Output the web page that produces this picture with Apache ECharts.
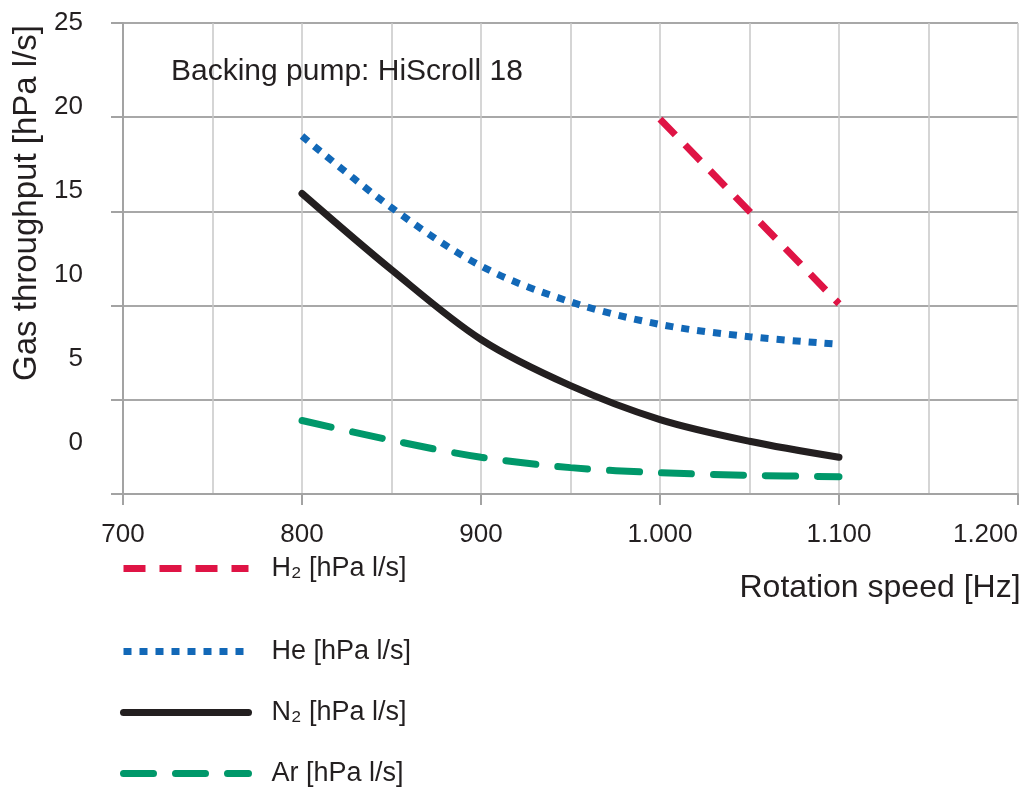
<!DOCTYPE html>
<html>
<head>
<meta charset="utf-8">
<script src="https://cdn.jsdelivr.net/npm/echarts@6/dist/echarts.min.js"></script>
<style>
  html, body { margin: 0; padding: 0; background: #fff; }
  #chart { width: 1030px; height: 787px; }
</style>
</head>
<body>
<div id="chart"></div>
<script>
  // rotation speed in Hz
  var speeds = [800, 850, 900, 950, 1000, 1050, 1100]
  // gas throughput in hPa l/s
  var h2 = [null, null, null, null, 19.9, 15.0, 10.1]
  var he = [19.0, 15.2, 12.1, 10.2, 9.0, 8.35, 7.95]
  var n2 = [15.95, 11.9, 8.2, 5.75, 3.95, 2.8, 1.95]
  var ar = [3.9, 2.85, 1.95, 1.4, 1.13, 0.99, 0.92]
  var seriesNames = ['H₂ [hPa l/s]', 'He [hPa l/s]', 'N₂ [hPa l/s]', 'Ar [hPa l/s]']
  var yTicks = [0, 5, 10, 15, 20, 25]
  var xTicks = [700, 800, 900, 1000, 1100, 1200]

  var textColor = '#231f20'
  var font = 'Liberation Sans, Arial, sans-serif'

  function pairs(vals) {
    return speeds.map(function (s, i) { return [s, vals[i]] })
  }

  // the y labels in the source drift upwards against the grid lines
  var yRich = {}
  yTicks.forEach(function (v) {
    yRich['t' + v] = { fontSize: 26, color: textColor, fontFamily: font, padding: [0, 0, (25 - v) / 5 * 20.4, 0] }
  })

  var chart = echarts.init(document.getElementById('chart'))

  function legendAt(name, top) {
    return {
      data: [name],
      left: 115,
      top: top,
      itemWidth: 125,
      itemHeight: 14,
      selectedMode: false,
      itemStyle: { opacity: 0, color: 'transparent', borderWidth: 0 },
      lineStyle: { width: 7 },
      textStyle: { fontSize: 27, color: textColor, fontFamily: font, padding: [0, 0, 0, 18] }
    }
  }

  chart.setOption({
    animation: false,
    backgroundColor: '#fff',
    title: {
      text: 'Backing pump: HiScroll 18',
      left: 166,
      top: 52,
      textStyle: { fontSize: 30, fontWeight: 'normal', color: textColor, fontFamily: font }
    },
    legend: [
      legendAt(seriesNames[0], 550),
      legendAt(seriesNames[1], 633),
      legendAt(seriesNames[2], 694),
      legendAt(seriesNames[3], 755)
    ],
    grid: {
      left: 123,
      right: 12,
      top: 23,
      bottom: 293,
      containLabel: false,
      outerBoundsMode: 'none'
    },
    xAxis: {
      type: 'value',
      min: 700,
      max: 1200,
      interval: 100,
      name: 'Rotation speed [Hz]',
      nameLocation: 'middle',
      nameGap: 78,
      nameTextStyle: {
        fontSize: 32, color: textColor, fontFamily: font,
        padding: [0, 0, 0, 619]
      },
      axisLine: { lineStyle: { color: '#a3a3a3', width: 2 } },
      axisTick: { show: true, length: 11, lineStyle: { color: '#a3a3a3', width: 2 } },
      axisLabel: {
        margin: 28,
        fontSize: 26,
        color: textColor,
        fontFamily: font,
        alignMaxLabel: 'right',
        formatter: function (v) {
          if (xTicks.indexOf(v) < 0) return ''
          return v >= 1000 ? Math.floor(v / 1000) + '.' + String(v % 1000).padStart(3, '0') : String(v)
        }
      },
      splitLine: { show: true, lineStyle: { color: '#c8c8c8', width: 1.5 } },
      minorTick: { show: false, splitNumber: 2 },
      minorSplitLine: { show: true, lineStyle: { color: '#c8c8c8', width: 1.5 } }
    },
    yAxis: {
      type: 'value',
      min: 0,
      max: 25,
      interval: 5,
      name: 'Gas throughput [hPa l/s]',
      nameLocation: 'middle',
      nameRotate: 90,
      nameGap: 80,
      nameTextStyle: { fontSize: 33, color: textColor, fontFamily: font, padding: [0, 0, 0, 111] },
      axisLine: { show: true, lineStyle: { color: '#a3a3a3', width: 2 } },
      axisTick: { show: true, length: 12, lineStyle: { color: '#a3a3a3', width: 2 } },
      axisLabel: {
        margin: 40,
        formatter: function (v) { return '{t' + v + '|' + v + '}' },
        rich: yRich
      },
      splitLine: { show: true, lineStyle: { color: '#a8a8a8', width: 2 } }
    },
    series: [
      {
        name: seriesNames[0],
        type: 'line',
        data: pairs(h2),
        symbol: 'none',
        color: '#df1445',
        lineStyle: { width: 7, type: [22, 14], cap: 'butt' }
      },
      {
        name: seriesNames[1],
        type: 'line',
        data: pairs(he),
        smooth: 0.33,
        symbol: 'none',
        color: '#1268b7',
        lineStyle: { width: 7, type: [8, 8], cap: 'butt' }
      },
      {
        name: seriesNames[2],
        type: 'line',
        data: pairs(n2),
        smooth: 0.33,
        symbol: 'none',
        color: '#231f20',
        lineStyle: { width: 7, type: 'solid', cap: 'round' }
      },
      {
        name: seriesNames[3],
        type: 'line',
        data: pairs(ar),
        smooth: 0.33,
        symbol: 'none',
        color: '#00986a',
        lineStyle: { width: 7, type: [30, 22], cap: 'round' }
      }
    ]
  })
</script>
</body>
</html>
